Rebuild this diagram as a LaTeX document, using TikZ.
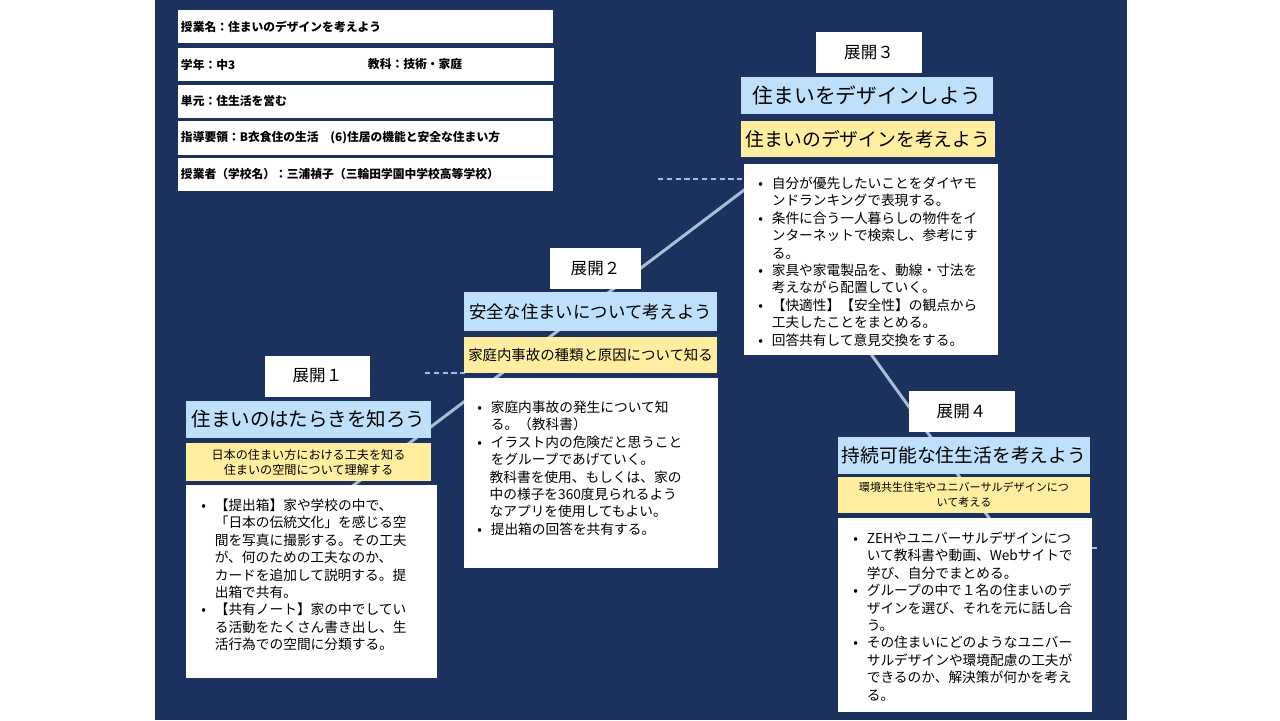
\documentclass[tikz,border=0pt]{standalone}
\usepackage{fontspec}
\setmainfont{Noto Sans CJK JP}
\XeTeXlinebreaklocale "ja"
\usetikzlibrary{positioning}
\definecolor{bgcolor}{RGB}{28, 50, 94}
\definecolor{Bcolor}{RGB}{190, 224, 250}
\definecolor{Ycolor}{RGB}{255, 238, 160}
\definecolor{Lcolor}{RGB}{170, 188, 214}
\def\txtsize{\fontsize{7.8}{9.9}\selectfont}

\begin{document}
\begin{tikzpicture}[x=0.02cm, y=-0.02cm,
    hdr/.style={draw=none, fill=white, inner xsep=1.5pt, inner ysep=0pt, minimum height=0.66cm, anchor=west, align=left, font=\fontsize{6.7}{8}\selectfont\bfseries},
    phase/.style={fill=white, inner sep=0pt, minimum width=2.12cm, minimum height=0.82cm, font=\fontsize{9.4}{11}\selectfont},
    ttl/.style={fill=Bcolor, inner sep=0pt, minimum width=5.04cm, minimum height=0.75cm},
    sub/.style={fill=Ycolor, inner sep=0pt, minimum width=5.06cm, minimum height=0.72cm, align=center},
    body/.style={fill=white, inner sep=0pt, anchor=north west, minimum width=5.08cm},
    txt/.style={inner sep=0pt, anchor=north west, align=left, font=\txtsize},
    stair/.style={Lcolor, line width=1.7pt},
    guide/.style={Lcolor, line width=0.8pt, dash pattern=on 3pt off 2pt}]
    % background
    \fill[white] (0, 0) rectangle (1280, 720);
    \fill[bgcolor] (155, 0) rectangle (1127, 720);
    % staircase lines
    \coordinate (p1) at (350, 488);
    \coordinate (p2) at (760, 178);
    \coordinate (q1) at (868, 350);
    \coordinate (q2) at (992, 522);
    \draw[stair] (p1) -- (p2);
    \draw[stair] (q1) -- (q2);
    \coordinate (d1a) at (425, 373);
    \coordinate (d1b) at (466, 373);
    \coordinate (d2a) at (658, 179);
    \coordinate (d2b) at (745, 179);
    \coordinate (d3a) at (1092, 548);
    \coordinate (d3b) at (1100, 548);
    \draw[guide] (d1a) -- (d1b);
    \draw[guide] (d2a) -- (d2b);
    \draw[guide] (d3a) -- (d3b);
    % header
    \node[hdr, text width=7.38cm] (h1) at (178, 26.5) {授業名：住まいのデザインを考えよう};
    \node[hdr, text width=3.62cm] (h2) at (178, 64.5) {学年：中3};
    \node[hdr, text width=3.66cm] (h3) at (365, 64.5) {教科：技術・家庭};
    \node[hdr, text width=7.38cm] (h4) at (178, 101.5) {単元：住生活を営む};
    \node[hdr, text width=7.38cm, minimum height=0.68cm] (h5) at (178, 138) {指導要領：B衣食住の生活　(6)住居の機能と安全な住まい方};
    \node[hdr, text width=7.38cm] (h6) at (178, 174.5) {授業者（学校名）：三浦禎子（三輪田学園中学校高等学校）};
    % phase 1
    \node[phase] (S1) at (317.5, 376) {展開１};
    \node[ttl, minimum width=4.9cm, font=\fontsize{11.1}{13}\selectfont] (T1) at (308.5, 419.5) {住まいのはたらきを知ろう};
    \node[sub, minimum width=4.9cm, minimum height=0.76cm, font=\fontsize{6.9}{8.6}\selectfont] (Y1) at (308.5, 462) {日本の住まい方における工夫を知る\\住まいの空間について理解する};
    \node[body, minimum width=5.02cm, minimum height=3.86cm] (B1) at (186, 485) {};
    \node[txt] (C1) at (201, 498) {\begin{tabular}{@{}l@{\hspace{5pt}}l@{}}
        •&【提出箱】家や学校の中で、\\
        &「日本の伝統文化」を感じる空\\
        &間を写真に撮影する。その工夫\\
        &が、何のための工夫なのか、\\
        &カードを追加して説明する。提\\
        &出箱で共有。\\
        •&【共有ノート】家の中でしてい\\
        &る活動をたくさん書き出し、生\\
        &活行為での空間に分類する。
    \end{tabular}};
    % phase 2
    \node[phase, minimum width=1.82cm] (S2) at (595.5, 268.5) {展開２};
    \node[ttl, minimum width=5.06cm, minimum height=0.78cm, font=\fontsize{9.9}{12}\selectfont] (T2) at (590.5, 311.5) {安全な住まいについて考えよう};
    \node[sub, font=\fontsize{8.2}{10}\selectfont] (Y2) at (590.5, 355) {家庭内事故の種類と原因について知る};
    \node[body, minimum height=3.8cm] (B2) at (464, 378) {};
    \node[txt] (C2) at (477, 400) {\begin{tabular}{@{}l@{\hspace{5pt}}l@{}}
        •&家庭内事故の発生について知\\
        &る。（教科書）\\
        •&イラスト内の危険だと思うこと\\
        &をグループであげていく。\\
        \multicolumn{2}{@{}l@{}}{\hspace{7pt}教科書を使用、もしくは、家の}\\
        \multicolumn{2}{@{}l@{}}{\hspace{7pt}中の様子を360度見られるよう}\\
        \multicolumn{2}{@{}l@{}}{\hspace{7pt}なアプリを使用してもよい。}\\
        •&提出箱の回答を共有する。
    \end{tabular}};
    % phase 3
    \node[phase] (S3) at (869, 52.5) {展開３};
    \node[ttl, font=\fontsize{11.8}{14}\selectfont] (T3) at (867, 95.5) {住まいをデザインしよう};
    \node[sub, minimum width=5.08cm, font=\fontsize{10.7}{13}\selectfont] (Y3) at (868, 139) {住まいのデザインを考えよう};
    \node[body, minimum height=3.82cm] (B3) at (744, 164) {};
    \node[txt] (C3) at (758, 176) {\begin{tabular}{@{}l@{\hspace{5pt}}l@{}}
        •&自分が優先したいことをダイヤモ\\
        &ンドランキングで表現する。\\
        •&条件に合う一人暮らしの物件をイ\\
        &ンターネットで検索し、参考にす\\
        &る。\\
        •&家具や家電製品を、動線・寸法を\\
        &考えながら配置していく。\\
        •&【快適性】【安全性】の観点から\\
        &工夫したことをまとめる。\\
        •&回答共有して意見交換をする。
    \end{tabular}};
    % phase 4
    \node[phase] (S4) at (961.5, 411.5) {展開４};
    \node[ttl, font=\fontsize{10.7}{13}\selectfont] (T4) at (964, 455.5) {持続可能な住生活を考えよう};
    \node[sub, minimum width=5.04cm, font=\fontsize{6.3}{8.4}\selectfont] (Y4) at (964, 495) {環境共生住宅やユニバーサルデザインにつ\\いて考える};
    \node[body, minimum height=3.88cm] (B4) at (838, 518) {};
    \node[txt] (C4) at (853, 531) {\begin{tabular}{@{}l@{\hspace{5pt}}l@{}}
        •&ZEHやユニバーサルデザインにつ\\
        &いて教科書や動画、Webサイトで\\
        &学び、自分でまとめる。\\
        •&グループの中で１名の住まいのデ\\
        &ザインを選び、それを元に話し合\\
        &う。\\
        •&その住まいにどのようなユニバー\\
        &サルデザインや環境配慮の工夫が\\
        &できるのか、解決策が何かを考え\\
        &る。
    \end{tabular}};
\end{tikzpicture}
\end{document}
